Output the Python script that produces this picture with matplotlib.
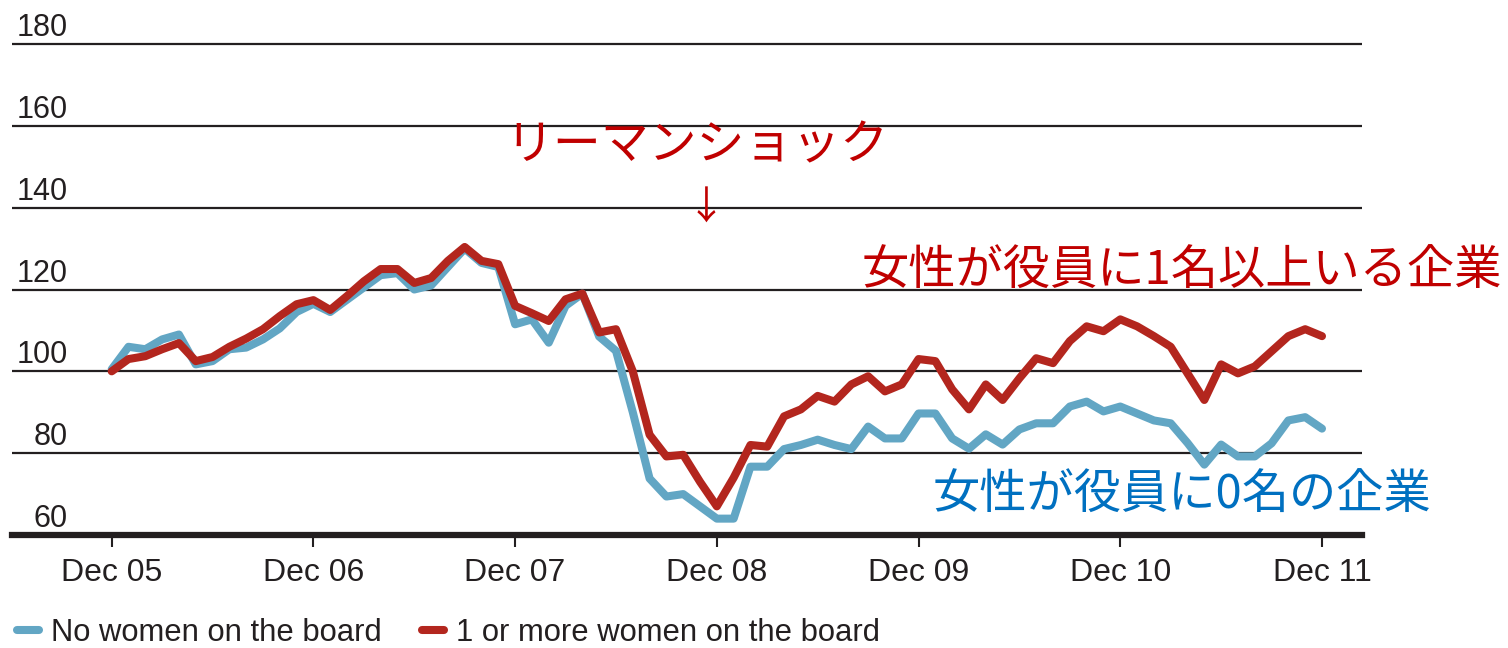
import matplotlib
matplotlib.use("Agg")
import matplotlib.pyplot as plt
from matplotlib.lines import Line2D
from matplotlib.transforms import blended_transform_factory

# monthly index series, Dec 05 .. Dec 11
tick_labels = ["Dec 05", "Dec 06", "Dec 07", "Dec 08", "Dec 09", "Dec 10", "Dec 11"]
y_ticks = [60, 80, 100, 120, 140, 160, 180]

no_women = [
    100.5, 106, 105.4, 107.8, 109, 101.7, 102.5, 105.4, 105.8, 107.8,
    110.5, 114.5, 116.5, 114.5, 117.5, 120.5, 123.5, 124, 120, 121,
    125.5, 130, 126.5, 125.5, 111.5, 112.7, 107, 116, 119, 108.5,
    105, 90, 73.8, 69.4, 70, 67, 64, 64, 76.7, 76.7,
    81, 82, 83.3, 82, 81, 86.5, 83.6, 83.6, 89.7, 89.7,
    83.6, 81.1, 84.6, 82.1, 85.8, 87.3, 87.3, 91.4, 92.6, 90.2,
    91.4, 89.7, 88, 87.3, 82.5, 77.2, 82.1, 79.2, 79.2, 82.4,
    88, 88.8, 86,
]
with_women = [
    100, 103, 103.7, 105.4, 106.9, 102.5, 103.5, 106, 108, 110.3,
    113.5, 116.4, 117.4, 115, 118.4, 122, 125, 125, 121.6, 122.8,
    127, 130.4, 127, 126.2, 116, 114.2, 112.3, 117.6, 119, 109.5,
    110.3, 100, 84.5, 79.2, 79.6, 73, 67, 74, 82, 81.6,
    89, 90.7, 94, 92.6, 96.8, 98.8, 95.1, 96.8, 103, 102.5,
    95.6, 90.7, 96.8, 93, 98.3, 103.2, 102, 107.4, 111, 109.8,
    112.7, 111, 108.6, 106, 99.5, 93, 101.7, 99.5, 101.2, 104.9,
    108.6, 110.3, 108.6,
]
months = list(range(len(with_women)))

ink = "#231f20"
blue = "#62a6c4"
red = "#b3261e"
jp = ["Noto Sans CJK JP", "DejaVu Sans"]

plt.rcParams["font.family"] = ["Liberation Sans", "DejaVu Sans"]

fig = plt.figure(figsize=(15.08, 6.48), dpi=100)
ax = fig.add_axes([12 / 1508, (648 - 535) / 648, 1350 / 1508, (535 - 44) / 648])

ax.plot(months, no_women, color=blue, lw=5.8, solid_capstyle="round", solid_joinstyle="round", zorder=3)
ax.plot(months, with_women, color=red, lw=5.8, solid_capstyle="round", solid_joinstyle="round", zorder=4)

ax.set_xlim(-5.93, 74.38)
ax.set_ylim(60, 180)

# gridlines with labels sitting above them
ax.hlines(y_ticks[1:], -5.93, 74.38, color=ink, lw=1.6, clip_on=False, zorder=1)
tr = blended_transform_factory(ax.transAxes, ax.transData)
for v in y_ticks:
    ax.annotate(str(v), xy=(0.0415, v), xycoords=tr, xytext=(0, 8), textcoords="offset pixels",
                ha="right", va="baseline", fontsize=22, color=ink)

ax.set_yticks([])
for s in ["left", "right", "top"]:
    ax.spines[s].set_visible(False)
ax.spines["bottom"].set_linewidth(4.5)
ax.spines["bottom"].set_color(ink)

ax.set_xticks(range(0, 73, 12))
ax.set_xticklabels(tick_labels, fontsize=23, color=ink)
ax.tick_params(axis="x", direction="out", length=8.5, width=1.5, color=ink, pad=8)

# annotations
fig.text(505 / 1508, (648 - 146) / 648, "リーマンショック", family=jp, fontsize=34.5,
         color="#c00000", ha="left", va="center")
fig.text(706 / 1508, (648 - 208) / 648, "↓", family=jp, fontsize=28,
         color="#c00000", ha="center", va="center")
fig.text(862 / 1508, (648 - 272) / 648, "女性が役員に1名以上いる企業", family=jp, fontsize=34,
         color="#c00000", ha="left", va="center")
fig.text(933 / 1508, (648 - 496) / 648, "女性が役員に0名の企業", family=jp, fontsize=34,
         color="#0070c0", ha="left", va="center")

handles = [Line2D([], [], color=blue, lw=5.8, solid_capstyle="round"),
           Line2D([], [], color=red, lw=5.8, solid_capstyle="round")]
leg = fig.legend(handles, ["No women on the board", "1 or more women on the board"],
                 loc="lower left", bbox_to_anchor=(14 / 1508, -0.005), ncol=2, frameon=False,
                 handlelength=0.7, handletextpad=0.4, columnspacing=1.3,
                 borderpad=0.1, borderaxespad=0, prop={"size": 22.3})
for t in leg.get_texts():
    t.set_color(ink)

fig.savefig("out.png", dpi=100)
